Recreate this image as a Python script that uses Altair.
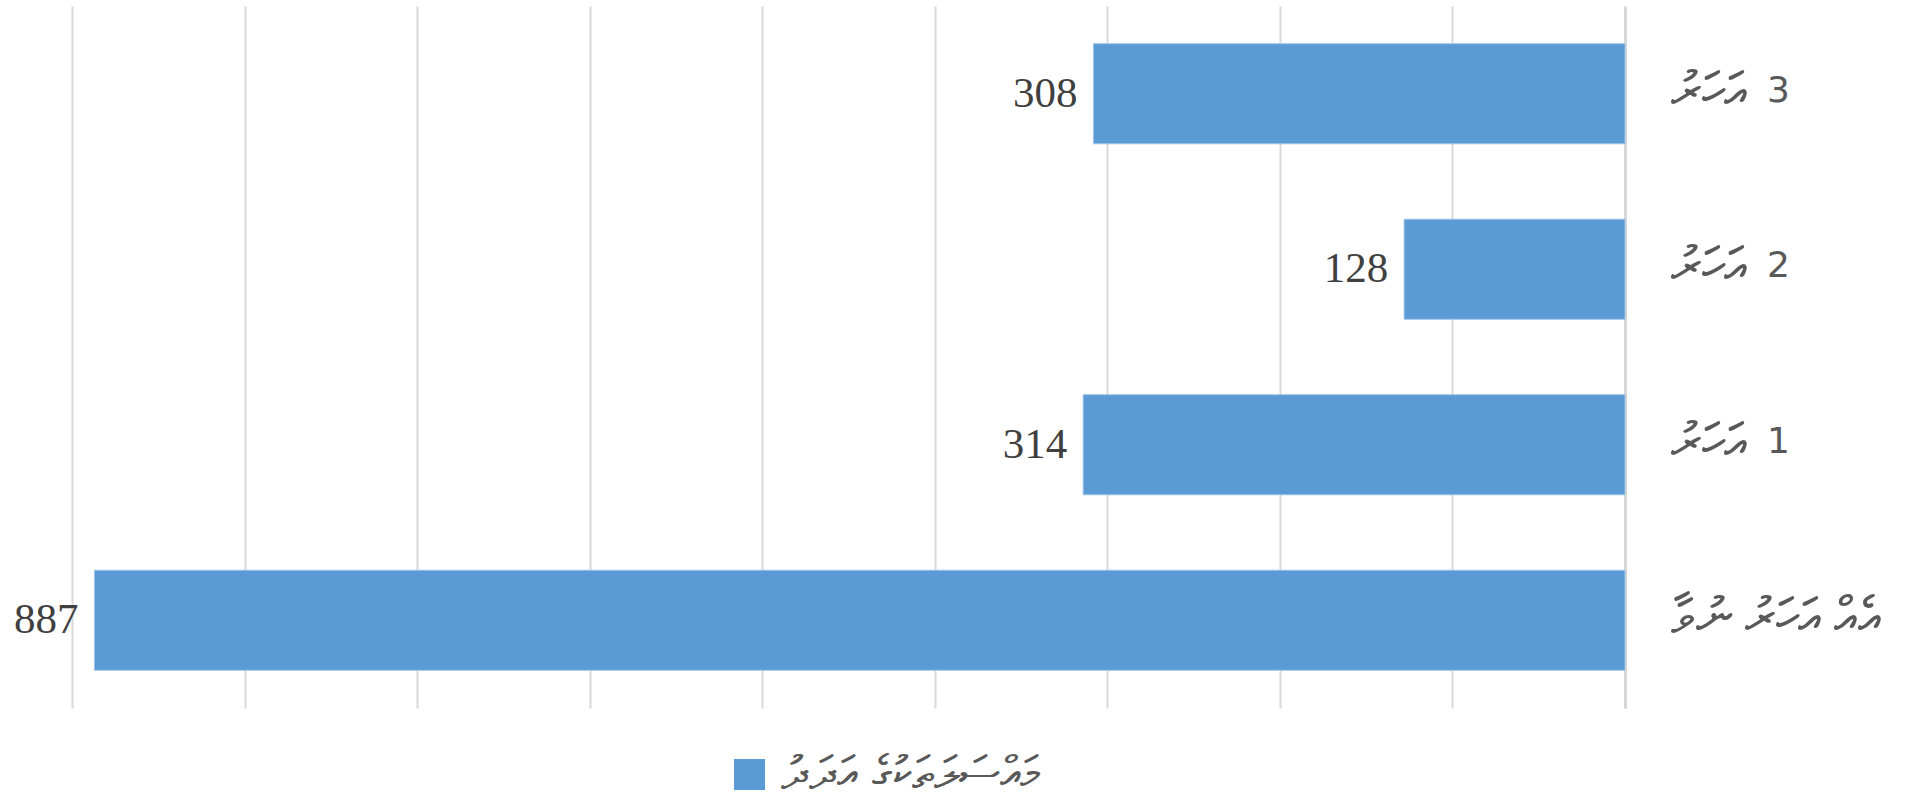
import altair as alt
import pandas as pd

categories = ["3 years", "2 years", "1 year", "under 1 year"]
label_words = ["އަހަރު", "އަހަރު", "އަހަރު", "އެއް އަހަރު ނުވާ"]
label_nums = ["3", "2", "1", ""]
values = [308, 128, 314, 887]
series_name = "މައްސަލަތަކުގެ އަދަދު"
grid_values = [0, 100, 200, 300, 400, 500, 600, 700, 800, 900]

df = pd.DataFrame({"cat": categories, "word": label_words, "num": label_nums,
                   "val": values, "series": [series_name] * len(values)})

W, H = 1553, 702

base = alt.Chart(df)
ycat = alt.Y("cat:N", sort=None, title=None,
             scale=alt.Scale(paddingInner=0.43, paddingOuter=0.215),
             axis=alt.Axis(orient="right", labels=False, ticks=False, domain=True,
                           domainColor="#d6d6d6", domainWidth=3, grid=False))

bars = base.mark_bar(stroke="#9dc3e6", strokeWidth=1).encode(
    y=ycat,
    x=alt.X("val:Q", title=None,
            scale=alt.Scale(domain=[0, 900], reverse=True, nice=False, zero=True),
            axis=alt.Axis(values=grid_values, labels=False, ticks=False, domain=False,
                          grid=True, gridColor="#d9d9d9", gridWidth=2)),
    color=alt.Color("series:N", scale=alt.Scale(range=["#5b9bd5"]),
                    legend=alt.Legend(title=None, orient="none", legendX=654, legendY=745,
                                      symbolType="square", symbolSize=961, symbolStrokeWidth=0,
                                      labelFontSize=47, labelColor="#595959",
                                      labelOffset=8, padding=0, labelLimit=800)),
)

values_text = base.mark_text(align="right", baseline="middle", dx=-16, fontSize=43,
                             font="Liberation Serif", color="#404040").encode(
    y=alt.Y("cat:N", sort=None),
    x=alt.X("val:Q"),
    text=alt.Text("val:Q"),
)

word_text = base.mark_text(align="left", baseline="middle", dx=46, dy=-2, fontSize=52,
                           color="#595959").encode(
    y=alt.Y("cat:N", sort=None),
    x=alt.datum(0),
    text=alt.Text("word:N"),
)

num_text = base.mark_text(align="left", baseline="middle", dx=142, dy=-3, fontSize=36,
                          font="DejaVu Sans", color="#595959").encode(
    y=alt.Y("cat:N", sort=None),
    x=alt.datum(0),
    text=alt.Text("num:N"),
)

chart = (bars + values_text + word_text + num_text).properties(
    width=W, height=H,
    autosize=alt.AutoSizeParams(type="none"),
    padding={"left": 72, "top": 6, "right": 1924 - 72 - W, "bottom": 798 - 6 - H},
    background="white",
).configure_view(stroke=None)

chart.save("out.html", embed_options={"renderer": "svg", "actions": False})
